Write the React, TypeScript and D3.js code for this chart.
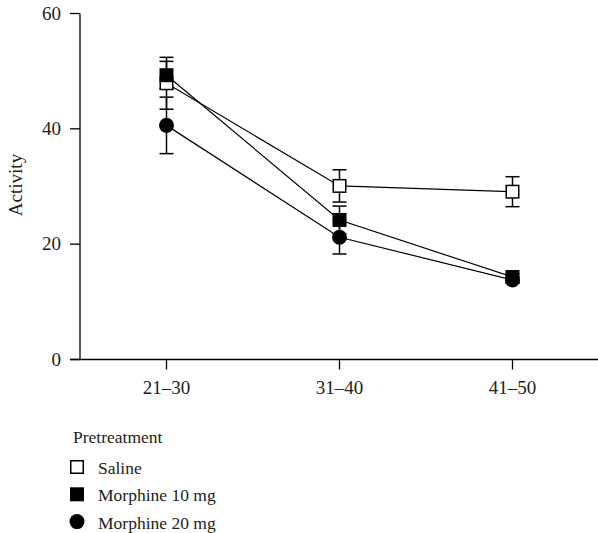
import React from "react";
import * as d3 from "d3";

const categories = ["21–30", "31–40", "41–50"];
const salineMean = [47.9, 30.1, 29.1];
const salineErr = [4.5, 2.8, 2.6];
const m10Mean = [49.3, 24.2, 14.3];
const m10Err = [2.4, 2.4, 0.6];
const m20Mean = [40.6, 21.2, 13.8];
const m20Err = [4.9, 2.9, 0.5];
const yTicks = [0, 20, 40, 60];

const seriesList = [
  { name: "Saline", mean: salineMean, err: salineErr, shape: "openSquare" },
  { name: "Morphine 10 mg", mean: m10Mean, err: m10Err, shape: "square" },
  { name: "Morphine 20 mg", mean: m20Mean, err: m20Err, shape: "circle" },
];

const W = 598;
const H = 533;
const FONT = "'Liberation Serif', 'DejaVu Serif', serif";
const FS = 19;
const LFS = 17.5;

function Marker({ shape, x, y, s }: { shape: string; x: number; y: number; s: number }) {
  if (shape === "circle") return <circle cx={x} cy={y} r={s / 2 + 0.5} fill="#000" />;
  if (shape === "square")
    return <rect x={x - s / 2} y={y - s / 2} width={s} height={s} fill="#000" />;
  return (
    <rect x={x - s / 2 + 0.75} y={y - s / 2 + 0.75} width={s - 1.5} height={s - 1.5} fill="#fff" stroke="#000" strokeWidth={1.5} />
  );
}

export default function App() {
  const x = d3.scalePoint<string>().domain(categories).range([80, 599]).padding(0.5);
  const y = d3.scaleLinear().domain([0, 60]).range([359.5, 13.5]);
  const line = d3
    .line<number>()
    .x((_, i) => x(categories[i]) as number)
    .y((d) => y(d));
  const cap = 7;

  return (
    <svg width={W} height={H} style={{ position: "absolute", left: 0, top: 0, background: "#fff" }} fontFamily={FONT}>
      {/* axes */}
      <line x1={80} x2={80} y1={y(60)} y2={y(0)} stroke="#000" strokeWidth={1.3} />
      <line x1={70} x2={599} y1={y(0)} y2={y(0)} stroke="#000" strokeWidth={1.3} />
      {yTicks.map((t) => (
        <g key={t}>
          <line x1={70} x2={80} y1={y(t)} y2={y(t)} stroke="#000" strokeWidth={1.3} />
          <text x={61} y={y(t)} dy="0.33em" textAnchor="end" fontSize={FS} fill="#222">
            {t}
          </text>
        </g>
      ))}
      {categories.map((c) => (
        <g key={c}>
          <line x1={x(c)} x2={x(c)} y1={y(0)} y2={y(0) + 10} stroke="#000" strokeWidth={1.3} />
          <text x={x(c)} y={394} textAnchor="middle" fontSize={FS} fill="#222">
            {c}
          </text>
        </g>
      ))}
      <text transform={`translate(22,185) rotate(-90)`} textAnchor="middle" fontSize={FS} fill="#222">
        Activity
      </text>

      {/* lines */}
      {seriesList.map((s) => (
        <path key={s.name} d={line(s.mean) || ""} fill="none" stroke="#000" strokeWidth={1.2} />
      ))}
      {/* error bars */}
      {seriesList.map((s) =>
        s.mean.map((m, i) => {
          const cx = x(categories[i]) as number;
          const top = y(m + s.err[i]);
          const bot = y(m - s.err[i]);
          return (
            <g key={s.name + i} stroke="#000" strokeWidth={1.5}>
              <line x1={cx} x2={cx} y1={top} y2={bot} />
              <line x1={cx - cap} x2={cx + cap} y1={top} y2={top} />
              <line x1={cx - cap} x2={cx + cap} y1={bot} y2={bot} />
            </g>
          );
        })
      )}
      {/* markers */}
      {seriesList.map((s) =>
        s.mean.map((m, i) => (
          <Marker key={s.name + "m" + i} shape={s.shape} x={x(categories[i]) as number} y={y(m)} s={14} />
        ))
      )}

      {/* legend */}
      <text x={73} y={443} fontSize={LFS} fill="#222">
        Pretreatment
      </text>
      {seriesList.map((s, i) => (
        <g key={s.name + "leg"}>
          <Marker shape={s.shape} x={77} y={467 + i * 27.3} s={14} />
          <text x={98} y={473.5 + i * 27.5} fontSize={LFS} fill="#222">
            {s.name}
          </text>
        </g>
      ))}
    </svg>
  );
}
